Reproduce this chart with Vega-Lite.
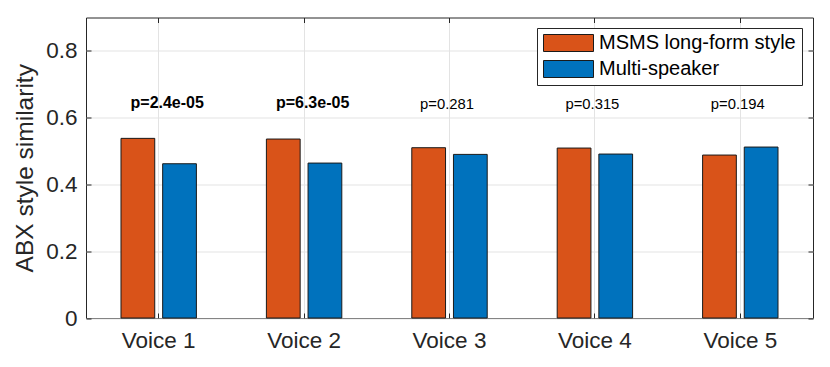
{
  "$schema": "https://vega.github.io/schema/vega-lite/v6.json",
  "autosize": {"type": "none"},
  "width": 727,
  "height": 300.5,
  "padding": {"left": 86, "top": 17.5, "right": 17, "bottom": 49},
  "config": {
    "font": "Liberation Sans",
    "view": {"stroke": "#262626", "strokeWidth": 1},
    "axis": {"domain": false, "labelColor": "#262626", "titleColor": "#262626", "tickColor": "#262626", "gridColor": "#e3e3e3"}
  },
  "datasets": {
    "bars": [
      {"voice": "Voice 1", "method": "MSMS long-form style", "value": 0.538},
      {"voice": "Voice 1", "method": "Multi-speaker", "value": 0.462},
      {"voice": "Voice 2", "method": "MSMS long-form style", "value": 0.536},
      {"voice": "Voice 2", "method": "Multi-speaker", "value": 0.464},
      {"voice": "Voice 3", "method": "MSMS long-form style", "value": 0.510},
      {"voice": "Voice 3", "method": "Multi-speaker", "value": 0.490},
      {"voice": "Voice 4", "method": "MSMS long-form style", "value": 0.509},
      {"voice": "Voice 4", "method": "Multi-speaker", "value": 0.491},
      {"voice": "Voice 5", "method": "MSMS long-form style", "value": 0.488},
      {"voice": "Voice 5", "method": "Multi-speaker", "value": 0.512}
    ],
    "pvals": [
      {"voice": "Voice 1", "label": "p=2.4e-05", "ypos": 0.628, "sig": true},
      {"voice": "Voice 2", "label": "p=6.3e-05", "ypos": 0.628, "sig": true},
      {"voice": "Voice 3", "label": "p=0.281", "ypos": 0.627, "sig": false},
      {"voice": "Voice 4", "label": "p=0.315", "ypos": 0.627, "sig": false},
      {"voice": "Voice 5", "label": "p=0.194", "ypos": 0.627, "sig": false}
    ]
  },
  "resolve": {"axis": {"x": "independent", "y": "independent"}},
  "layer": [
    {
      "data": {"name": "bars"},
      "mark": {"type": "bar", "stroke": "#1a1a1a", "strokeWidth": 1},
      "encoding": {
        "x": {
          "field": "voice", "type": "nominal",
          "scale": {"paddingInner": 0, "paddingOuter": 0},
          "axis": {"title": null, "orient": "bottom", "labelAngle": 0, "labelFontSize": 22.5, "labelPadding": 16, "tickSize": -5, "grid": true, "gridColor": "#e3e3e3"}
        },
        "xOffset": {
          "field": "method", "type": "nominal",
          "scale": {"paddingInner": 0.19, "paddingOuter": 0.84}
        },
        "y": {
          "field": "value", "type": "quantitative",
          "scale": {"domain": [0, 0.9], "nice": false},
          "axis": {"title": "ABX style similarity", "titleFontSize": 24.5, "titleFontWeight": "normal", "titlePadding": 8, "values": [0, 0.2, 0.4, 0.6, 0.8], "format": "~g", "labelFontSize": 22.5, "labelPadding": 14, "tickSize": -5, "grid": true}
        },
        "color": {
          "field": "method", "type": "nominal",
          "scale": {"domain": ["MSMS long-form style", "Multi-speaker"], "range": ["#D95319", "#0072BD"]},
          "legend": {
            "title": null, "orient": "none", "legendX": 451, "legendY": 10.5,
            "fillColor": "white", "strokeColor": "#262626", "padding": 6,
            "symbolType": "M-1,-0.34H1V0.34H-1Z", "symbolSize": 2500,
            "symbolStrokeColor": "#1a1a1a", "symbolStrokeWidth": 1, "symbolOpacity": 1,
            "labelFontSize": 20, "labelColor": "#000000", "labelOffset": 5,
            "clipHeight": 18, "rowPadding": 6, "labelLimit": 400
          }
        }
      }
    },
    {
      "data": {"name": "pvals"},
      "transform": [{"filter": "datum.sig"}],
      "mark": {"type": "text", "fontSize": 16, "fontWeight": "bold", "color": "#000000", "baseline": "alphabetic", "dx": 8.5},
      "encoding": {
        "x": {"field": "voice", "type": "nominal", "axis": {"orient": "top", "title": null, "labels": false, "tickSize": -5, "grid": false}},
        "y": {"field": "ypos", "type": "quantitative", "axis": {"orient": "right", "title": null, "labels": false, "values": [0, 0.2, 0.4, 0.6, 0.8], "tickSize": -5, "grid": false}},
        "text": {"field": "label"}
      }
    },
    {
      "data": {"name": "pvals"},
      "transform": [{"filter": "!datum.sig"}],
      "mark": {"type": "text", "fontSize": 14.8, "fontWeight": "normal", "color": "#000000", "baseline": "alphabetic", "dx": -2.5},
      "encoding": {
        "x": {"field": "voice", "type": "nominal", "axis": null},
        "y": {"field": "ypos", "type": "quantitative", "axis": null},
        "text": {"field": "label"}
      }
    }
  ]
}
